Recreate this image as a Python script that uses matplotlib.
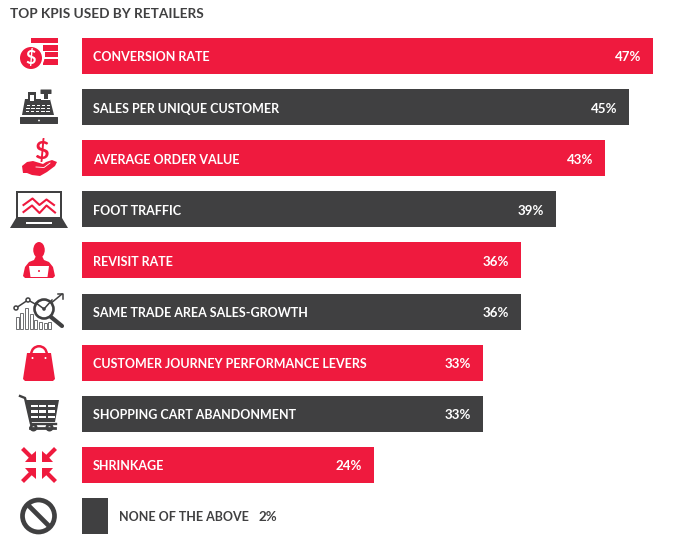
"""Top KPIs used by retailers: bars plus hand drawn icons."""

import matplotlib
matplotlib.use("Agg")
import matplotlib.pyplot as plt
from matplotlib.patches import Circle, Ellipse, Polygon, Rectangle, Wedge, FancyBboxPatch

RED = "#ef1a3e"
DARK = "#404041"
W, H = 679, 542

categories = [
    "CONVERSION RATE", "SALES PER UNIQUE CUSTOMER", "AVERAGE ORDER VALUE",
    "FOOT TRAFFIC", "REVISIT RATE", "SAME TRADE AREA SALES-GROWTH",
    "CUSTOMER JOURNEY PERFORMANCE LEVERS", "SHOPPING CART ABANDONMENT",
    "SHRINKAGE", "NONE OF THE ABOVE",
]
# lengths, the drawn bars do not quite follow the labels
bar_values = [47.0, 45.0, 43.05, 39.0, 36.1, 36.1, 33.0, 33.0, 24.0, 2.15]
value_labels = ["47%", "45%", "43%", "39%", "36%", "36%", "33%", "33%", "24%", "2%"]
bar_colors = [RED, DARK, RED, DARK, RED, DARK, RED, DARK, RED, DARK]

plt.rcParams["font.family"] = ["Lato", "DejaVu Sans"]
plt.rcParams["font.weight"] = "bold"

fig = plt.figure(figsize=(W / 100, H / 100), dpi=100)


# ---------- Bars ----------

def draw_bars():
    ax = fig.add_axes([82 / W, 8 / H, (W - 82) / W, 496 / H])
    ax.barh(range(len(categories)), bar_values, height=36 / 51, color=bar_colors)
    ax.set_xlim(0, (W - 82) / 12.15)
    ax.set_ylim(9 + 18 / 51, -18 / 51)
    ax.axis("off")

    for i, (name, val, lab) in enumerate(zip(categories, bar_values, value_labels)):
        if val < 5:
            # too short, the text sits beside the bar
            ax.annotate(name, (val, i), xytext=(11 * 0.72, -1), textcoords="offset points",
                        color=DARK, fontsize=9.0, va="center")
            ax.annotate(lab, (val, i), xytext=(150 * 0.72, -1), textcoords="offset points",
                        color=DARK, fontsize=9.6, va="center")
        else:
            ax.annotate(name, (0, i), xytext=(11 * 0.72, -1), textcoords="offset points",
                        color="white", fontsize=9.0, va="center")
            ax.annotate(lab, (val, i), xytext=(-11.5 * 0.72, -1), textcoords="offset points",
                        color="white", fontsize=9.6, va="center", ha="right")


# ---------- Icons (pixel coordinates) ----------

def icon_money(ax):
    for y0, y1, x0 in [(38, 43, 31), (45, 50.5, 43), (52, 57, 45), (59, 65, 43)]:
        ax.add_patch(Rectangle((x0, y0), 58 - x0, y1 - y0, color=RED, lw=0))
    ax.add_patch(Circle((31, 57), 13.5, color="white", lw=0))
    ax.add_patch(Circle((31, 58), 11, color=RED, lw=0))
    ax.text(31, 58, "$", color="white", fontsize=13, ha="center", va="center")


def icon_register(ax):
    ax.add_patch(Polygon([(25, 99), (50, 99), (54, 115), (22, 115)], color=DARK, lw=0))
    ax.add_patch(Rectangle((28, 92), 8, 11, color=DARK, lw=0))
    ax.add_patch(Rectangle((30, 95), 4, 6, color="white", lw=0))
    ax.add_patch(FancyBboxPatch((41, 90), 10, 3.5, boxstyle="round,pad=0.5", color=DARK, lw=0))
    ax.add_patch(Rectangle((44, 94), 4, 6, color=DARK, lw=0))
    ax.add_patch(Rectangle((41, 98.5), 9, 1.5, color="white", lw=0))
    for r, y in enumerate([104.5, 107.5, 110.5]):
        for c in range(5):
            ax.add_patch(Rectangle((26.5 - r * 0.4 + c * 5.1, y), 3.5, 1.2, color="white", lw=0))
    ax.add_patch(FancyBboxPatch((20.5, 117.5), 37, 6, boxstyle="round,pad=0.5", color=DARK, lw=0))
    ax.add_patch(Circle((39, 120.5), 0.9, color="white", lw=0))


def icon_hand(ax):
    ax.text(41, 150.5, "$", color=RED, fontsize=18, ha="center", va="center")
    hand = [(22, 166), (27, 162), (33, 161), (43, 164), (46, 162), (52, 160), (57, 162),
            (55, 166), (47, 172), (40, 176), (32, 175), (27, 173), (23, 173)]
    ax.add_patch(Polygon(hand, color=RED, lw=0))
    ax.plot([36, 44, 50], [167, 167.5, 163], color="white", lw=0.6)


def icon_laptop(ax):
    ax.add_patch(Rectangle((16, 191), 46, 28, color=DARK, lw=0))
    ax.add_patch(Rectangle((18, 193), 42, 24, color="white", lw=0))
    ax.add_patch(Polygon([(16, 218), (62, 218), (68, 228), (10, 228)], color=DARK, lw=0))
    ax.add_patch(Rectangle((26, 222), 26, 2, color="white", lw=0))
    ax.plot([23.5, 32.5, 39.5, 46.5, 54], [205, 198.5, 205, 199.5, 205], color=RED, lw=1.5)
    ax.plot([23.5, 32, 39.5, 46.5, 55], [212, 205.5, 213, 205.5, 212.5], color=RED, lw=1.5)


def icon_person(ax):
    ax.add_patch(Ellipse((39, 250), 11.5, 16, color=RED, lw=0))
    body = [(36, 256), (42, 256), (44, 260), (49, 262), (53, 267), (55, 276), (53, 278),
            (25, 278), (23, 276), (25, 267), (29, 262), (34, 260)]
    ax.add_patch(Polygon(body, color=RED, lw=0))
    ax.add_patch(Polygon([(29, 266), (49, 266), (47.5, 277), (30.5, 277)], color="white", lw=0))
    ax.add_patch(Circle((39, 271), 1, color=RED, lw=0))


def icon_analytics(ax):
    tops = [317, 313, 308, 314, 320, 322, 323, 322]
    for k, top in enumerate(tops):
        ax.add_patch(Rectangle((15.5 + k * 4.7, top), 3, 329 - top, fc="white", ec="#6d6e70", lw=0.7))
    ax.plot([16, 28, 44, 62], [308, 300, 309, 294], color=DARK, lw=1.1)
    ax.plot([58, 63, 63], [294, 294, 299], color=DARK, lw=1.1)
    for x, y in [(16, 308), (28, 300)]:
        ax.add_patch(Circle((x, y), 2, fc="white", ec=DARK, lw=1.1, zorder=3))
    ax.plot([51, 62], [317, 326], color=DARK, lw=3, solid_capstyle="round", zorder=3)
    ax.add_patch(Circle((44, 309), 9.5, fc="white", ec=DARK, lw=1.9, zorder=3))
    ax.plot([36, 44, 52], [303, 309, 300], color=DARK, lw=1.1, zorder=4)
    ax.add_patch(Circle((44, 309), 1.8, fc=DARK, lw=0, zorder=5))


def icon_bag(ax):
    ax.add_patch(Wedge((39, 354), 9, 180, 360, width=2.5, color=RED, lw=0))
    ax.add_patch(Polygon([(27, 353), (51, 353), (55, 379), (53, 381), (25, 381), (23, 379)],
                         color=RED, lw=0))
    ax.add_patch(Circle((32.5, 358), 1, color="white", lw=0))
    ax.add_patch(Circle((45.5, 358), 1, color="white", lw=0))


def icon_cart(ax):
    ax.plot([20, 25, 31, 56], [396, 398, 424, 424], color=DARK, lw=1.7)
    ax.add_patch(Polygon([(25, 400), (59, 400), (55, 422), (30, 422)], color=DARK, lw=0))
    for y in [404.5, 410, 415.5]:
        for k in range(3):
            ax.add_patch(Rectangle((30.5 + k * 8.8, y), 7, 2.6, color="white", lw=0))
    ax.plot([30, 55], [427.5, 427.5], color=DARK, lw=2)
    for x in [33.5, 49.5]:
        ax.add_patch(Circle((x, 427.5), 4, color=DARK, lw=0))
        ax.add_patch(Circle((x, 427.5), 1.2, color="white", lw=0))


def icon_shrink(ax):
    cx, cy = 39, 465
    for sx, sy in [(-1, -1), (1, -1), (-1, 1), (1, 1)]:
        head = [(cx + sx * 3, cy + sy * 3), (cx + sx * 3, cy + sy * 14), (cx + sx * 7, cy + sy * 10.5),
                (cx + sx * 10.5, cy + sy * 7), (cx + sx * 14, cy + sy * 3)]
        ax.add_patch(Polygon(head, color=RED, lw=0))
        ax.plot([cx + sx * 8, cx + sx * 16.5], [cy + sy * 8, cy + sy * 16.5], color=RED, lw=3,
                solid_capstyle="butt")


def icon_none(ax):
    ax.add_patch(Circle((38.5, 516), 16, fc="white", ec=DARK, lw=3.4))
    ax.plot([28, 49], [505, 526], color=DARK, lw=3.4, solid_capstyle="butt")


def draw_icons():
    ax = fig.add_axes([0, 0, 1, 1])
    ax.set_xlim(0, W)
    ax.set_ylim(H, 0)
    ax.axis("off")
    ax.patch.set_alpha(0)

    ax.text(10, 14.5, "TOP KPIS USED BY RETAILERS", color=DARK, fontsize=9.8, va="center")

    icon_money(ax)
    icon_register(ax)
    icon_hand(ax)
    icon_laptop(ax)
    icon_person(ax)
    icon_analytics(ax)
    icon_bag(ax)
    icon_cart(ax)
    icon_shrink(ax)
    icon_none(ax)


def main():
    draw_bars()
    draw_icons()
    fig.savefig("out.png", dpi=100)


if __name__ == "__main__":
    main()
